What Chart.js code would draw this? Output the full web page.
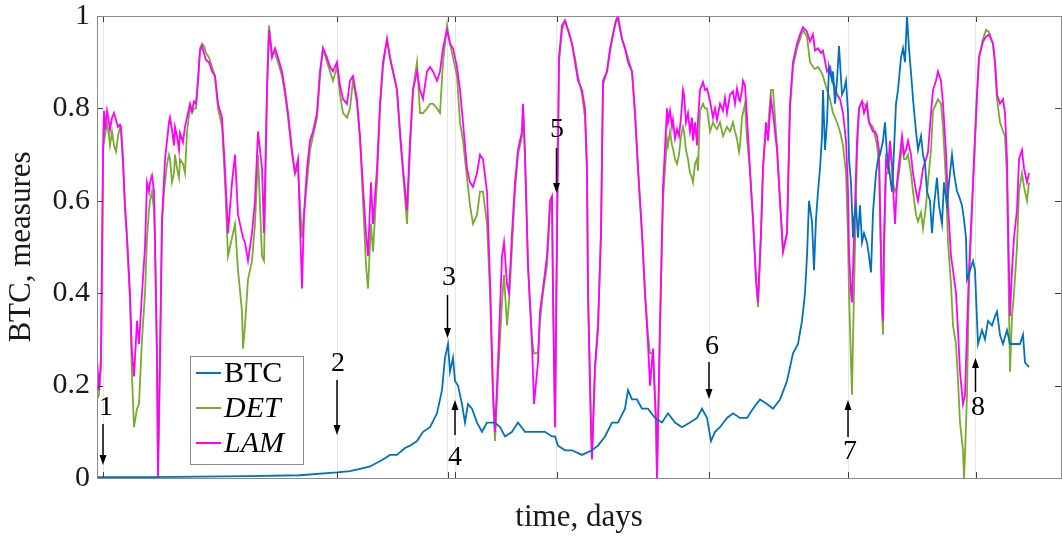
<!DOCTYPE html>
<html>
<head>
<meta charset="utf-8">
<script src="https://cdn.jsdelivr.net/npm/chart.js@4.4.0/dist/chart.umd.min.js"></script>
<style>
  body { margin: 0; background: #fff; }
  #wrap { width: 1062px; height: 548px; }
</style>
</head>
<body>
<div id="wrap"><canvas id="grafico" width="1062" height="548"></canvas></div>
<script>
// time axis in days (shared by DET and LAM)
const days = [
    0, 4, 8, 12, 14, 16, 20, 24, 26, 30,
    34, 38, 42, 46, 48, 52, 56, 60, 66, 70,
    74, 80, 84, 90, 96, 100, 104, 106, 110, 114,
    116, 120, 122, 126, 130, 134, 136, 140, 144, 146,
    150, 154, 156, 160, 164, 166, 172, 176, 180, 186,
    190, 194, 198, 202, 206, 210, 214, 218, 224, 230,
    236, 242, 250, 256, 262, 270, 276, 282, 290, 292,
    296, 302, 310, 316, 322, 330, 334, 340, 344, 350,
    356, 362, 370, 376, 382, 390, 396, 402, 410, 414,
    420, 426, 432, 440, 446, 452, 460, 466, 472, 480,
    486, 492, 500, 506, 512, 520, 526, 532, 538, 542,
    548, 552, 560, 566, 572, 580, 586, 592, 600, 606,
    612, 620, 626, 632, 640, 646, 652, 660, 666, 672,
    680, 686, 692, 700, 706, 712, 720, 726, 732, 740,
    746, 752, 760, 766, 772, 780, 786, 792, 796, 802,
    810, 814, 820, 824, 830, 836, 842, 850, 852, 856,
    862, 870, 874, 882, 886, 892, 900, 906, 910, 912,
    916, 920, 924, 930, 936, 942, 950, 956, 962, 970,
    976, 980, 982, 988, 990, 996, 1002, 1008, 1012, 1020,
    1026, 1032, 1038, 1042, 1050, 1056, 1062, 1070, 1076, 1082,
    1090, 1096, 1102, 1106, 1112, 1118, 1120, 1126, 1132, 1140,
    1142, 1146, 1150, 1152, 1156, 1160, 1164, 1168, 1172, 1174,
    1178, 1182, 1186, 1190, 1192, 1196, 1200, 1202, 1206, 1212,
    1216, 1220, 1226, 1232, 1236, 1240, 1246, 1252, 1256, 1260,
    1266, 1272, 1276, 1280, 1284, 1286, 1290, 1292, 1296, 1300,
    1306, 1312, 1318, 1322, 1328, 1332, 1338, 1342, 1348, 1352,
    1360, 1366, 1372, 1380, 1386, 1392, 1400, 1406, 1412, 1420,
    1426, 1432, 1436, 1442, 1448, 1452, 1460, 1466, 1472, 1480,
    1486, 1492, 1498, 1502, 1504, 1508, 1510, 1512, 1516, 1520,
    1524, 1530, 1534, 1540, 1544, 1552, 1556, 1560, 1564, 1566,
    1570, 1572, 1574, 1578, 1582, 1586, 1590, 1592, 1596, 1600,
    1604, 1610, 1614, 1618, 1622, 1628, 1632, 1638, 1642, 1648,
    1652, 1658, 1662, 1668, 1672, 1678, 1682, 1688, 1692, 1698,
    1702, 1708, 1712, 1718, 1722, 1726, 1732, 1734, 1736, 1740,
    1744, 1750, 1754, 1760, 1764, 1772, 1778, 1784, 1792, 1796,
    1800, 1806, 1812, 1816, 1820, 1822, 1826, 1830, 1834, 1840,
    1844, 1850, 1854, 1860, 1864
];

const lam = [
    0.26, 0.19, 0.26, 0.70, 0.795, 0.754, 0.795, 0.77, 0.754, 0.78,
    0.79, 0.775, 0.76, 0.765, 0.76, 0.69, 0.59, 0.52, 0.40, 0.27,
    0.22, 0.34, 0.29, 0.40, 0.50, 0.64, 0.62, 0.64, 0.655, 0.62,
    0.52, 0.26, 0.00, 0.26, 0.56, 0.645, 0.69, 0.73, 0.77, 0.78,
    0.754, 0.72, 0.76, 0.74, 0.71, 0.747, 0.727, 0.76, 0.78, 0.81,
    0.795, 0.815, 0.81, 0.86, 0.925, 0.935, 0.92, 0.905, 0.90, 0.88,
    0.87, 0.81, 0.78, 0.67, 0.53, 0.64, 0.70, 0.57, 0.53, 0.52,
    0.51, 0.47, 0.53, 0.60, 0.75, 0.67, 0.53, 0.84, 0.97, 0.91,
    0.93, 0.91, 0.88, 0.84, 0.79, 0.71, 0.66, 0.69, 0.41, 0.57,
    0.67, 0.73, 0.75, 0.79, 0.88, 0.93, 0.91, 0.89, 0.88, 0.90,
    0.85, 0.82, 0.81, 0.86, 0.87, 0.82, 0.74, 0.63, 0.53, 0.48,
    0.64, 0.55, 0.67, 0.81, 0.90, 0.95, 0.91, 0.88, 0.84, 0.75,
    0.67, 0.58, 0.73, 0.84, 0.88, 0.84, 0.82, 0.88, 0.89, 0.88,
    0.86, 0.88, 0.93, 0.97, 0.94, 0.93, 0.89, 0.84, 0.77, 0.67,
    0.64, 0.63, 0.66, 0.70, 0.69, 0.62, 0.43, 0.19, 0.10, 0.25,
    0.48, 0.51, 0.42, 0.40, 0.53, 0.64, 0.71, 0.75, 0.81, 0.70,
    0.46, 0.29, 0.16, 0.25, 0.36, 0.41, 0.48, 0.60, 0.61, 0.40,
    0.11, 0.53, 0.91, 0.98, 0.99, 0.97, 0.94, 0.90, 0.86, 0.84,
    0.80, 0.67, 0.40, 0.10, 0.04, 0.24, 0.32, 0.53, 0.86, 0.88,
    0.93, 0.96, 0.99, 1.00, 0.95, 0.93, 0.90, 0.88, 0.79, 0.67,
    0.53, 0.40, 0.29, 0.20, 0.28, 0.12, 0.00, 0.33, 0.63, 0.80,
    0.77, 0.795, 0.76, 0.775, 0.735, 0.755, 0.74, 0.78, 0.84, 0.83,
    0.77, 0.79, 0.75, 0.78, 0.73, 0.77, 0.72, 0.775, 0.84, 0.857,
    0.84, 0.843, 0.816, 0.78, 0.80, 0.775, 0.81, 0.795, 0.823, 0.79,
    0.83, 0.837, 0.81, 0.843, 0.82, 0.816, 0.84, 0.86, 0.85, 0.78,
    0.665, 0.56, 0.43, 0.38, 0.53, 0.67, 0.77, 0.73, 0.82, 0.79,
    0.71, 0.60, 0.49, 0.53, 0.81, 0.90, 0.94, 0.96, 0.976, 0.966,
    0.945, 0.96, 0.925, 0.93, 0.92, 0.925, 0.88, 0.89, 0.86, 0.83,
    0.82, 0.79, 0.73, 0.62, 0.49, 0.40, 0.38, 0.45, 0.59, 0.73,
    0.80, 0.815, 0.79, 0.81, 0.77, 0.75, 0.75, 0.74, 0.71, 0.59,
    0.38, 0.34, 0.52, 0.69, 0.67, 0.73, 0.68, 0.63, 0.55, 0.64,
    0.68, 0.74, 0.70, 0.71, 0.73, 0.70, 0.66, 0.62, 0.60, 0.64,
    0.67, 0.69, 0.705, 0.79, 0.84, 0.86, 0.88, 0.86, 0.81, 0.705,
    0.59, 0.48, 0.45, 0.40, 0.32, 0.23, 0.16, 0.17, 0.18, 0.32,
    0.45, 0.59, 0.69, 0.83, 0.91, 0.945, 0.955, 0.96, 0.94, 0.90,
    0.83, 0.81, 0.82, 0.79, 0.69, 0.555, 0.35, 0.45, 0.52, 0.58,
    0.69, 0.71, 0.67, 0.64, 0.66
];

const det = [
    0.17, 0.18, 0.24, 0.68, 0.77, 0.74, 0.77, 0.74, 0.72, 0.75,
    0.72, 0.706, 0.74, 0.76, 0.75, 0.68, 0.58, 0.52, 0.38, 0.22,
    0.11, 0.15, 0.16, 0.30, 0.40, 0.52, 0.58, 0.60, 0.62, 0.58,
    0.50, 0.26, 0.02, 0.26, 0.55, 0.62, 0.64, 0.68, 0.70, 0.69,
    0.64, 0.66, 0.70, 0.67, 0.65, 0.69, 0.68, 0.66, 0.75, 0.80,
    0.79, 0.80, 0.80, 0.86, 0.93, 0.94, 0.935, 0.92, 0.91, 0.89,
    0.87, 0.80, 0.76, 0.64, 0.48, 0.52, 0.55, 0.45, 0.36, 0.28,
    0.33, 0.43, 0.47, 0.55, 0.70, 0.48, 0.47, 0.84, 0.98, 0.92,
    0.92, 0.90, 0.87, 0.83, 0.78, 0.70, 0.66, 0.67, 0.52, 0.57,
    0.64, 0.71, 0.74, 0.78, 0.87, 0.93, 0.90, 0.88, 0.86, 0.89,
    0.83, 0.79, 0.78, 0.80, 0.86, 0.81, 0.73, 0.60, 0.46, 0.41,
    0.55, 0.49, 0.64, 0.80, 0.89, 0.95, 0.91, 0.88, 0.84, 0.74,
    0.66, 0.55, 0.71, 0.84, 0.90, 0.79, 0.79, 0.80, 0.81, 0.81,
    0.80, 0.79, 0.90, 0.98, 0.94, 0.91, 0.87, 0.77, 0.73, 0.65,
    0.59, 0.55, 0.57, 0.62, 0.62, 0.55, 0.40, 0.17, 0.08, 0.22,
    0.38, 0.44, 0.33, 0.38, 0.50, 0.62, 0.70, 0.74, 0.80, 0.70,
    0.46, 0.30, 0.27, 0.27, 0.34, 0.40, 0.46, 0.58, 0.60, 0.40,
    0.11, 0.53, 0.90, 0.97, 0.99, 0.97, 0.94, 0.91, 0.87, 0.83,
    0.78, 0.66, 0.40, 0.12, 0.05, 0.24, 0.34, 0.53, 0.85, 0.88,
    0.92, 0.96, 0.99, 0.99, 0.95, 0.93, 0.91, 0.88, 0.79, 0.67,
    0.53, 0.40, 0.31, 0.27, 0.27, 0.12, 0.00, 0.33, 0.60, 0.734,
    0.72, 0.75, 0.72, 0.713, 0.69, 0.68, 0.70, 0.74, 0.76, 0.75,
    0.71, 0.69, 0.66, 0.65, 0.64, 0.68, 0.69, 0.665, 0.795, 0.81,
    0.80, 0.80, 0.75, 0.77, 0.76, 0.755, 0.77, 0.74, 0.75, 0.76,
    0.75, 0.77, 0.75, 0.734, 0.706, 0.72, 0.78, 0.79, 0.81, 0.734,
    0.665, 0.56, 0.43, 0.37, 0.53, 0.67, 0.76, 0.76, 0.84, 0.84,
    0.72, 0.60, 0.49, 0.53, 0.80, 0.89, 0.93, 0.95, 0.97, 0.955,
    0.90, 0.89, 0.885, 0.89, 0.88, 0.87, 0.84, 0.82, 0.79, 0.77,
    0.75, 0.72, 0.66, 0.52, 0.40, 0.25, 0.18, 0.30, 0.50, 0.70,
    0.80, 0.815, 0.81, 0.80, 0.77, 0.76, 0.74, 0.72, 0.68, 0.58,
    0.36, 0.31, 0.48, 0.66, 0.66, 0.71, 0.67, 0.64, 0.62, 0.63,
    0.66, 0.72, 0.69, 0.69, 0.70, 0.66, 0.62, 0.57, 0.555, 0.575,
    0.54, 0.59, 0.64, 0.71, 0.795, 0.81, 0.82, 0.81, 0.76, 0.64,
    0.51, 0.42, 0.33, 0.29, 0.21, 0.12, 0.06, 0.00, 0.05, 0.18,
    0.42, 0.58, 0.68, 0.83, 0.91, 0.95, 0.97, 0.965, 0.94, 0.90,
    0.82, 0.77, 0.75, 0.74, 0.65, 0.50, 0.23, 0.35, 0.40, 0.50,
    0.62, 0.66, 0.63, 0.60, 0.64
];

const btcDays = [
    0, 106, 206, 306, 406, 480, 506, 526, 546, 572,
    586, 600, 616, 626, 640, 652, 666, 680, 690, 696,
    702, 706, 712, 716, 722, 730, 736, 742, 750, 760,
    770, 780, 796, 806, 816, 830, 842, 856, 870, 882,
    896, 910, 916, 922, 936, 950, 970, 990, 1002, 1016,
    1030, 1042, 1056, 1062, 1070, 1080, 1090, 1102, 1116, 1130,
    1142, 1156, 1170, 1186, 1200, 1210, 1220, 1228, 1236, 1246,
    1260, 1272, 1286, 1300, 1312, 1326, 1340, 1352, 1366, 1380,
    1392, 1402, 1410, 1416, 1420, 1424, 1430, 1434, 1438, 1442,
    1446, 1450, 1452, 1456, 1460, 1464, 1470, 1472, 1476, 1480,
    1484, 1490, 1494, 1498, 1502, 1504, 1508, 1512, 1514, 1518,
    1522, 1526, 1530, 1534, 1540, 1544, 1548, 1552, 1558, 1562,
    1566, 1572, 1576, 1580, 1584, 1590, 1592, 1598, 1602, 1608,
    1612, 1616, 1620, 1624, 1630, 1632, 1638, 1642, 1648, 1652,
    1656, 1660, 1666, 1670, 1674, 1680, 1684, 1690, 1694, 1700,
    1704, 1710, 1714, 1720, 1724, 1730, 1734, 1738, 1740, 1746,
    1752, 1756, 1760, 1762, 1770, 1776, 1782, 1790, 1796, 1800,
    1806, 1812, 1820, 1826, 1832, 1840, 1846, 1852, 1856, 1864
];

const btc = [
    0.002, 0.002, 0.003, 0.004, 0.006, 0.012, 0.015, 0.02, 0.025, 0.04,
    0.05, 0.05, 0.065, 0.07, 0.08, 0.10, 0.11, 0.14, 0.19, 0.26,
    0.29, 0.23, 0.26, 0.21, 0.20, 0.16, 0.12, 0.16, 0.15, 0.12,
    0.10, 0.12, 0.12, 0.11, 0.09, 0.10, 0.12, 0.10, 0.10, 0.10,
    0.10, 0.09, 0.09, 0.07, 0.06, 0.06, 0.05, 0.06, 0.07, 0.09,
    0.12, 0.12, 0.15, 0.19, 0.17, 0.17, 0.15, 0.15, 0.13, 0.12,
    0.14, 0.12, 0.11, 0.12, 0.13, 0.15, 0.13, 0.08, 0.10, 0.11,
    0.13, 0.14, 0.13, 0.13, 0.15, 0.17, 0.16, 0.15, 0.17, 0.21,
    0.27, 0.29, 0.34, 0.40, 0.48, 0.60, 0.555, 0.45, 0.56, 0.62,
    0.67, 0.74, 0.84, 0.71, 0.77, 0.89, 0.86, 0.88, 0.81, 0.86,
    0.935, 0.83, 0.84, 0.86, 0.79, 0.69, 0.64, 0.52, 0.56, 0.59,
    0.52, 0.59, 0.51, 0.53, 0.51, 0.48, 0.445, 0.575, 0.66, 0.69,
    0.70, 0.73, 0.77, 0.70, 0.67, 0.62, 0.66, 0.81, 0.84, 0.91,
    0.93, 0.90, 1.00, 0.93, 0.85, 0.82, 0.75, 0.71, 0.74, 0.70,
    0.68, 0.62, 0.60, 0.53, 0.59, 0.65, 0.59, 0.55, 0.64, 0.59,
    0.64, 0.70, 0.66, 0.62, 0.61, 0.59, 0.56, 0.52, 0.43, 0.45,
    0.47, 0.45, 0.34, 0.29, 0.32, 0.30, 0.34, 0.33, 0.35, 0.36,
    0.31, 0.29, 0.32, 0.29, 0.29, 0.29, 0.29, 0.31, 0.25, 0.24
];

// marked events: arrow position, label position, arrow from/to
const eventDays = [12, 480, 701, 716, 919, 1224, 1502, 1757];
const eventLabels = ['1', '2', '3', '4', '5', '6', '7', '8'];
const labelDays = [18, 482, 704, 716, 920, 1230, 1506, 1762];
const labelValues = [0.152, 0.247, 0.433, 0.043, 0.753, 0.284, 0.056, 0.152];
const arrowFrom = [0.117, 0.212, 0.396, 0.093, 0.714, 0.251, 0.089, 0.186];
const arrowTo = [0.028, 0.093, 0.303, 0.169, 0.617, 0.171, 0.169, 0.260];

const serif = "'Liberation Serif', 'Times New Roman', serif";
const cores = { BTC: '#0072BD', DET: '#77AC30', LAM: '#FF00FF' };

const moldura = {
    id: 'moldura',
    afterDatasetsDraw(chart) {
        const { ctx, chartArea: a, scales: { x, y } } = chart;
        ctx.save();
        ctx.strokeStyle = '#404040';
        ctx.lineWidth = 1;
        ctx.beginPath();
        y.ticks.forEach(t => {
            const py = Math.round(y.getPixelForValue(t.value)) + 0.5;
            ctx.moveTo(a.left, py); ctx.lineTo(a.left + 6, py);
            ctx.moveTo(a.right, py); ctx.lineTo(a.right - 6, py);
        });
        eventDays.forEach(d => {
            const px = Math.round(x.getPixelForValue(d)) + 0.5;
            ctx.moveTo(px, a.bottom); ctx.lineTo(px, a.bottom - 6);
            ctx.moveTo(px, a.top); ctx.lineTo(px, a.top + 6);
        });
        ctx.stroke();
        ctx.strokeStyle = '#8a8a8a';
        ctx.strokeRect(Math.round(a.left) + 0.5, Math.round(a.top) + 0.5,
            Math.round(a.right - a.left), Math.round(a.bottom - a.top));
        ctx.restore();
    },
    afterDraw(chart) {
        const { ctx, scales: { x, y } } = chart;
        ctx.save();
        // arrows and numbers
        ctx.fillStyle = '#000';
        ctx.strokeStyle = '#000';
        ctx.lineWidth = 1.5;
        ctx.font = '28px ' + serif;
        ctx.textAlign = 'center';
        ctx.textBaseline = 'middle';
        eventDays.forEach((d, i) => {
            const px = x.getPixelForValue(d);
            const y0 = y.getPixelForValue(arrowFrom[i]);
            const y1 = y.getPixelForValue(arrowTo[i]);
            const dir = y1 > y0 ? 1 : -1;
            ctx.beginPath();
            ctx.moveTo(px, y0);
            ctx.lineTo(px, y1 - dir * 8);
            ctx.stroke();
            ctx.beginPath();
            ctx.moveTo(px, y1);
            ctx.lineTo(px - 3.5, y1 - dir * 10);
            ctx.lineTo(px + 3.5, y1 - dir * 10);
            ctx.closePath();
            ctx.fill();
            ctx.fillText(eventLabels[i], x.getPixelForValue(labelDays[i]), y.getPixelForValue(labelValues[i]));
        });
        // legend box
        const lx = 190, ly = 356, lw = 113, lh = 108;
        ctx.fillStyle = '#fff';
        ctx.fillRect(lx, ly, lw, lh);
        ctx.strokeStyle = '#8a8a8a';
        ctx.lineWidth = 1;
        ctx.strokeRect(lx + 0.5, ly + 0.5, lw, lh);
        const nomes = ['BTC', 'DET', 'LAM'];
        ctx.textAlign = 'left';
        nomes.forEach((n, i) => {
            const ry = ly + 17 + i * 35;
            ctx.strokeStyle = cores[n];
            ctx.lineWidth = 2;
            ctx.beginPath();
            ctx.moveTo(lx + 6, ry);
            ctx.lineTo(lx + 31, ry);
            ctx.stroke();
            ctx.fillStyle = '#000';
            ctx.font = (i === 0 ? '' : 'italic ') + '30px ' + serif;
            ctx.fillText(n, lx + 34, ry + 1);
        });
        ctx.restore();
    }
};

const pontos = (xs, ys) => xs.map((d, i) => ({ x: d, y: ys[i] }));

new Chart(document.getElementById('grafico').getContext('2d'), {
    type: 'line',
    data: {
        datasets: [
            { label: 'BTC', data: pontos(btcDays, btc), borderColor: cores.BTC, borderWidth: 1.8, order: 0 },
            { label: 'DET', data: pontos(days, det), borderColor: cores.DET, borderWidth: 1.8, order: 2 },
            { label: 'LAM', data: pontos(days, lam), borderColor: cores.LAM, borderWidth: 1.8, order: 1 }
        ]
    },
    options: {
        responsive: false,
        animation: false,
        elements: { point: { radius: 0 }, line: { tension: 0 } },
        layout: { padding: { top: 16, right: 1, left: 0, bottom: 0 } },
        plugins: { legend: { display: false }, tooltip: { enabled: false } },
        scales: {
            x: {
                type: 'linear',
                min: 0,
                max: 1928,
                afterBuildTicks: s => { s.ticks = eventDays.map(v => ({ value: v })); },
                ticks: { display: false },
                grid: { color: '#e6e6e6', drawTicks: false },
                border: { display: false },
                title: { display: true, text: 'time, days', color: '#1a1a1a', font: { family: serif, size: 31 }, padding: { top: 0, bottom: 12 } },
                afterFit: s => { s.height = 70; s.paddingLeft = 0; s.paddingRight = 0; }
            },
            y: {
                min: 0,
                max: 1,
                ticks: {
                    stepSize: 0.2,
                    color: '#1a1a1a',
                    padding: 7,
                    font: { family: serif, size: 30 },
                    callback: v => (v === 0 || v === 1) ? String(v) : v.toFixed(1)
                },
                grid: { display: false, drawTicks: false },
                border: { display: false },
                title: { display: true, text: 'BTC, measures', color: '#1a1a1a', font: { family: serif, size: 31 }, padding: { top: 3, bottom: 0 } },
                afterFit: s => { s.width = 97; s.paddingTop = 0; s.paddingBottom = 0; }
            }
        }
    },
    plugins: [moldura]
});
</script>
</body>
</html>
